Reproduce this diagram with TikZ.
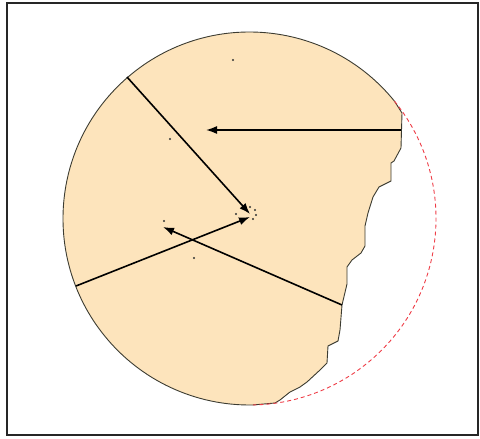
\documentclass[tikz,border=0pt]{standalone}
\usetikzlibrary{arrows.meta}
\definecolor{peach}{RGB}{253,228,188}
\definecolor{outl}{RGB}{60,60,50}
\definecolor{cutred}{RGB}{238,60,70}
\tikzset{
  frameline/.style={line width=2pt, draw=black!85},
  ray/.style={line width=1.6pt, -{Latex[length=11pt,width=8pt]}},
  speck/.style={fill=black!80},
}
\begin{document}
\begin{tikzpicture}[x=1pt,y=-1pt]
\useasboundingbox (0,0) rectangle (480,439);
\coordinate (c) at (249.5,218.5);
% disc with broken edge
\filldraw[fill=peach, draw=outl, line width=0.9pt, line join=round]
  (c) ++(39:186.5pt) coordinate (s)
  arc[start angle=39, end angle=271, radius=186.5pt]
  -- (275,403) -- (280,400) -- (290,392) -- (300,387) -- (307,382)
  -- (320,370) -- (327,363) -- (328,346) -- (338,341) -- (340,330)
  -- (342,305) -- (347,284) -- (347,267) -- (352,260) -- (361,253)
  -- (365,246) -- (365,226) -- (368,213) -- (373,197) -- (379,187)
  -- (391,181) -- (391,163) -- (394,161) -- (401,148) -- (402,113)
  -- cycle;
% missing part
\draw[cutred, line width=0.9pt, dash pattern=on 4pt off 3pt]
  (s) arc[start angle=39, end angle=-89, radius=186.5pt];
% rays
\coordinate (a1s) at (127,77);  \coordinate (a1e) at (250,214);
\coordinate (a2s) at (76,286);  \coordinate (a2e) at (250,217);
\coordinate (a3s) at (342,305); \coordinate (a3e) at (163,227);
\coordinate (a4s) at (401,130); \coordinate (a4e) at (206,130);
\draw[ray] (a1s) -- (a1e);
\draw[ray] (a2s) -- (a2e);
\draw[ray] (a3s) -- (a3e);
\draw[ray] (a4s) -- (a4e);
% specks
\foreach \p in {(233,60),(170,139),(194,258),(236,214),(164,221),(250,207),(255,210),(256,215),(253,219)}
  \fill[speck] \p circle[radius=1.2pt];
% frame
\draw[frameline] (7,3) rectangle (478,435);
\end{tikzpicture}
\end{document}
